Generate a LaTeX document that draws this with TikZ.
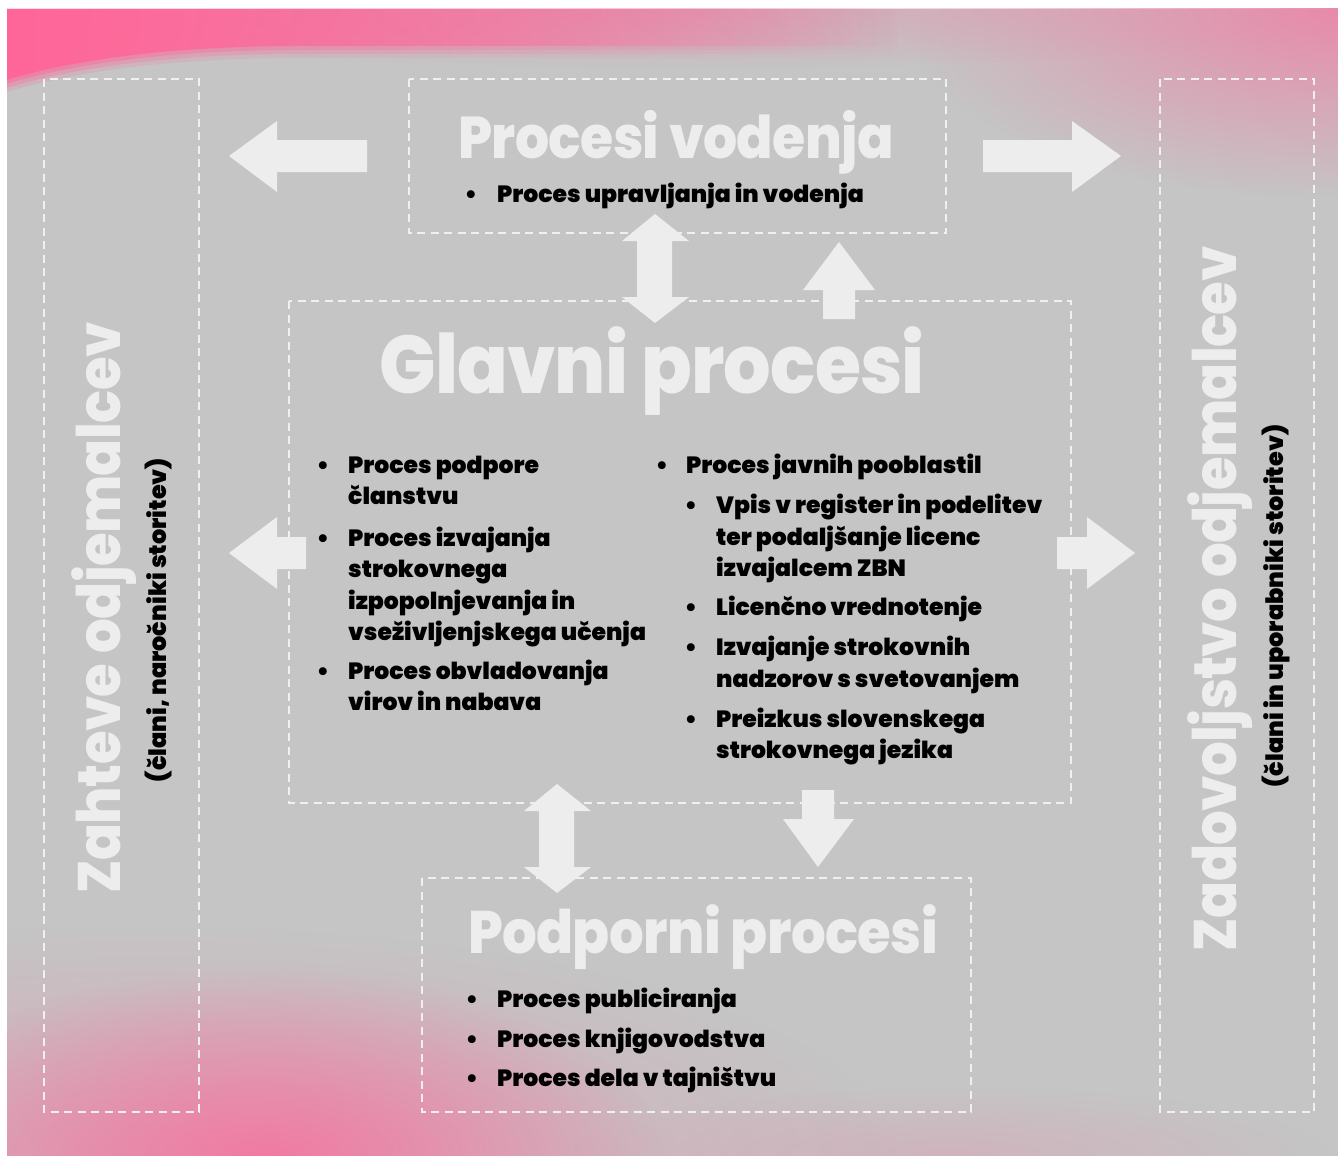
\documentclass[tikz,border=0pt]{standalone}
\usepackage{fontspec}
\usepackage{xcolor}
\setmainfont{Poppins}
\IfFontExistsTF{Poppins Black}{\newfontfamily\heavyface{Poppins Black}}{%
	\IfFontExistsTF{Poppins ExtraBold}{\newfontfamily\heavyface{Poppins ExtraBold}}{%
		\newfontfamily\heavyface{Poppins}[UprightFont=*, UprightFeatures={FakeBold=1.2}, BoldFont=*]\def\heavyface{\bfseries}}}
\IfFontExistsTF{Poppins ExtraBold}{\newfontfamily\titleface{Poppins ExtraBold}}{\let\titleface\heavyface}
\usetikzlibrary{fadings}
\definecolor{cBack}{HTML}{C5C5C5}
\definecolor{cPink}{HTML}{FF6699}
\definecolor{clPink}{HTML}{E98AAB}
\definecolor{cmPink}{HTML}{F27AA2}
\definecolor{cLight}{HTML}{EDEDED}
\definecolor{cDash}{HTML}{F0F0F0}
\tikzfading[name=glowfade, inner color=transparent!0, outer color=transparent!100]
\tikzfading[name=rightfade, left color=transparent!0, middle color=transparent!0, right color=transparent!100]
\newcommand\titlefont[1]{\titleface\fontsize{#1}{#1}\selectfont\addfontfeatures{FakeStretch=0.91, LetterSpace=-1}}
\tikzset{
	dashbox/.style={draw=cDash, line width=2.3pt, dash pattern=on 8pt off 5.5pt},
	blockarrow/.style={fill=cLight},
	bigtitle/.style={text=cLight, inner sep=0pt, anchor=base, font=\titlefont{59}},
	sidetitle/.style={text=cLight, inner sep=0pt, anchor=base, rotate=90, font=\titlefont{60}},
	sidesub/.style={inner sep=0pt, anchor=base, rotate=90, font=\heavyface\fontsize{24}{24}\selectfont},
	listtext/.style={inner sep=0pt, anchor=base west, font=\heavyface\fontsize{23.5}{31.5}\selectfont},
	bullet/.style={inner sep=0pt, anchor=base, font=\heavyface\fontsize{23.5}{31.5}\selectfont}
}

\begin{document}
\begin{tikzpicture}[x=1pt, y=-1pt]
		\useasboundingbox (0,0) rectangle (1338,1156);
		%background
		\fill [cBack] (7,9) rectangle (1338,1156);
		\begin{scope}
			\clip (7,9) rectangle (1338,1156);
			%pink glow top
			\fill [clPink, opacity=0.45, path fading=glowfade] (700,9) ellipse (700 and 60);
			\foreach \d/\o in {12/0.2,8/0.3,4/0.45,0/1}
			{
				\fill [cPink, opacity=\o, path fading=rightfade] (7,9) -- (900,9) -- (900,46+\d) -- (300,46+\d) .. controls (180,46+\d) and (80,58+\d) .. (7,80+\d) -- cycle;
			}
			\fill [clPink, path fading=glowfade] (1338,9) ellipse (440 and 190);
			%pink glow bottom
			\fill [clPink, opacity=0.5, path fading=glowfade] (150,1156) ellipse (750 and 230);
			\fill [cmPink, path fading=glowfade] (265,1160) ellipse (400 and 190);
			\fill [clPink, opacity=0.3, path fading=glowfade] (950,1156) ellipse (380 and 70);
		\end{scope}
		
		%dashed boxes
		\draw [dashbox] (44,79) rectangle (199,1112);
		\draw [dashbox] (1160,79) rectangle (1314,1112);
		\draw [dashbox] (409,79) rectangle (946,233);
		\draw [dashbox] (289,301) rectangle (1071,803);
		\draw [dashbox] (422,878) rectangle (971,1112);
		
		%block arrows
		\fill [blockarrow] (229,156) -- (277,121) -- (277,140) -- (367,140) -- (367,172) -- (277,172) -- (277,192) -- cycle;
		\fill [blockarrow] (1121,156) -- (1072,121) -- (1072,140) -- (983,140) -- (983,172) -- (1072,172) -- (1072,192) -- cycle;
		\fill [blockarrow] (229,553) -- (277,517) -- (277,537) -- (306,537) -- (306,569) -- (277,569) -- (277,589) -- cycle;
		\fill [blockarrow] (1135,553) -- (1087,517) -- (1087,537) -- (1057,537) -- (1057,569) -- (1087,569) -- (1087,589) -- cycle;
		\fill [blockarrow] (655,214) -- (689,241) -- (672,241) -- (672,297) -- (689,297) -- (655,323) -- (622,297) -- (637,297) -- (637,241) -- (622,241) -- cycle;
		\fill [blockarrow] (557,784) -- (591,811) -- (574,811) -- (574,867) -- (591,867) -- (557,893) -- (524,867) -- (539,867) -- (539,811) -- (524,811) -- cycle;
		\fill [blockarrow] (839,242) -- (875,290) -- (855,290) -- (855,319) -- (823,319) -- (823,290) -- (803,290) -- cycle;
		\fill [blockarrow] (818,867) -- (854,819) -- (834,819) -- (834,790) -- (802,790) -- (802,819) -- (783,819) -- cycle;
		
		%titles
		\node [bigtitle] (titleTop) at (676,158) {Procesi vodenja};
		\node [bigtitle, font=\titlefont{82}] (titleMain) at (652,393) {Glavni procesi};
		\node [bigtitle, font=\titlefont{60}] (titleSupport) at (703,953) {Podporni procesi};
		\node [sidetitle] (titleLeft) at (120,608) {Zahteve odjemalcev};
		\node [sidesub] (subLeft) at (166,620) {(člani, naročniki storitev)};
		\node [sidetitle] (titleRight) at (1236,599) {Zadovoljstvo odjemalcev};
		\node [sidesub] (subRight) at (1283,606) {(člani in uporabniki storitev)};
		
		%lists
		\node [bullet] (bulTop) at (471,202) {•};
		\node [listtext] (itemTop) at (497,202) {Proces upravljanja in vodenja};
		\foreach \y in {473,546,679}
		{
			\node [bullet] (bulL\y) at (323,\y) {•};
		}
		\foreach \y/\t [count=\i] in {473/Proces podpore, 504.5/članstvu, 546/Proces izvajanja, 577.5/strokovnega, 609/izpopolnjevanja in, 640.5/vseživljenjskega učenja, 679/Proces obvladovanja, 710.5/virov in nabava}
		{
			\node [listtext] (left\i) at (348,\y) {\t};
		}
		\node [bullet] (bulR) at (662,473) {•};
		\node [listtext] (right0) at (686,473) {Proces javnih pooblastil};
		\foreach \y in {513,615,655,727}
		{
			\node [bullet] (bulR\y) at (691,\y) {•};
		}
		\foreach \y/\t [count=\i] in {513/Vpis v register in podelitev, 545/ter podaljšanje licenc, 576/izvajalcem ZBN, 615/Licenčno vrednotenje, 655/Izvajanje strokovnih, 687/nadzorov s svetovanjem, 727/Preizkus slovenskega, 758/strokovnega jezika}
		{
			\node [listtext] (right\i) at (716,\y) {\t};
		}
		\foreach \y/\t [count=\i] in {1007/Proces publiciranja, 1047/Proces knjigovodstva, 1086/Proces dela v tajništvu}
		{
			\node [bullet] (bulB\i) at (472,\y) {•};
			\node [listtext] (bottom\i) at (497,\y) {\t};
		}
		
\end{tikzpicture}
\end{document}
